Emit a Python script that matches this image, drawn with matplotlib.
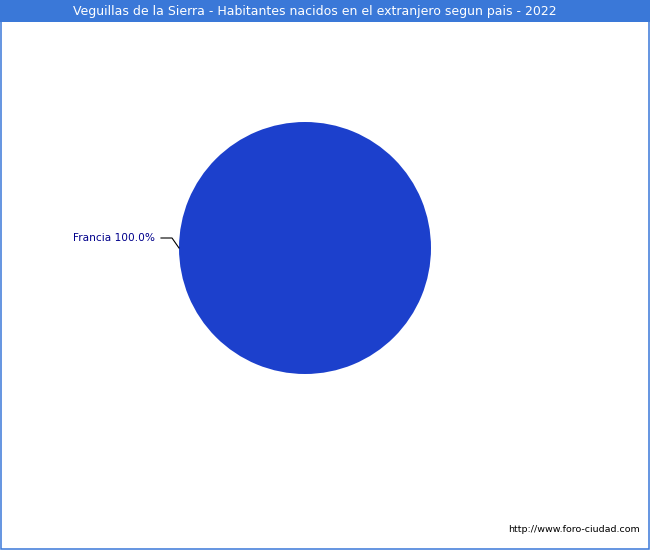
import matplotlib
matplotlib.use("Agg")
import matplotlib.pyplot as plt
from matplotlib.patches import Rectangle
import numpy as np

title = "Veguillas de la Sierra - Habitantes nacidos en el extranjero segun pais - 2022"
countries = ["Francia"]
values = [100.0]
source = "http://www.foro-ciudad.com"

W, H = 650, 550
fig = plt.figure(figsize=(W / 100, H / 100), dpi=100)
ax = fig.add_axes([0, 0, 1, 1])

cx, cy, r = 305, 248, 126
wedges, _ = ax.pie(values, colors=["#1c40cc"], center=(cx, cy), radius=r,
                   startangle=0, counterclock=True,
                   wedgeprops=dict(edgecolor="none"), frame=True)
ax.set_xlim(0, W)
ax.set_ylim(H, 0)
ax.set_aspect("equal")
ax.axis("off")

# frame and title bar
ax.add_patch(Rectangle((0, 0), W, 22, facecolor="#3a78d8",
                       edgecolor="none", zorder=1))
ax.add_patch(Rectangle((0.75, 0.75), W - 1.5, H - 1.5, facecolor="none",
                       edgecolor="#3a78d8", linewidth=1.1, zorder=4,
                       clip_on=False))
ax.text(315, 11.5, title, color="white", fontsize=9,
        ha="center", va="center", family="DejaVu Sans", zorder=2)

total = sum(values)
for w, name, v in zip(wedges, countries, values):
    ang = np.deg2rad((w.theta1 + w.theta2) / 2)
    px = cx + r * np.cos(ang)
    py = cy + r * np.sin(ang)
    ex, ey = px - 7, py - 10
    lx = ex - 11
    ax.plot([px, ex, lx], [py, ey, ey], color="black", lw=0.8, zorder=3)
    ax.text(lx - 6, ey, f"{name} {v / total * 100:.1f}%", color="#00008b",
            fontsize=7.6, ha="right", va="center", zorder=3)

ax.text(640, 529, source, color="black", fontsize=6.8,
        ha="right", va="center", zorder=3)

fig.savefig("out.png", dpi=100)
